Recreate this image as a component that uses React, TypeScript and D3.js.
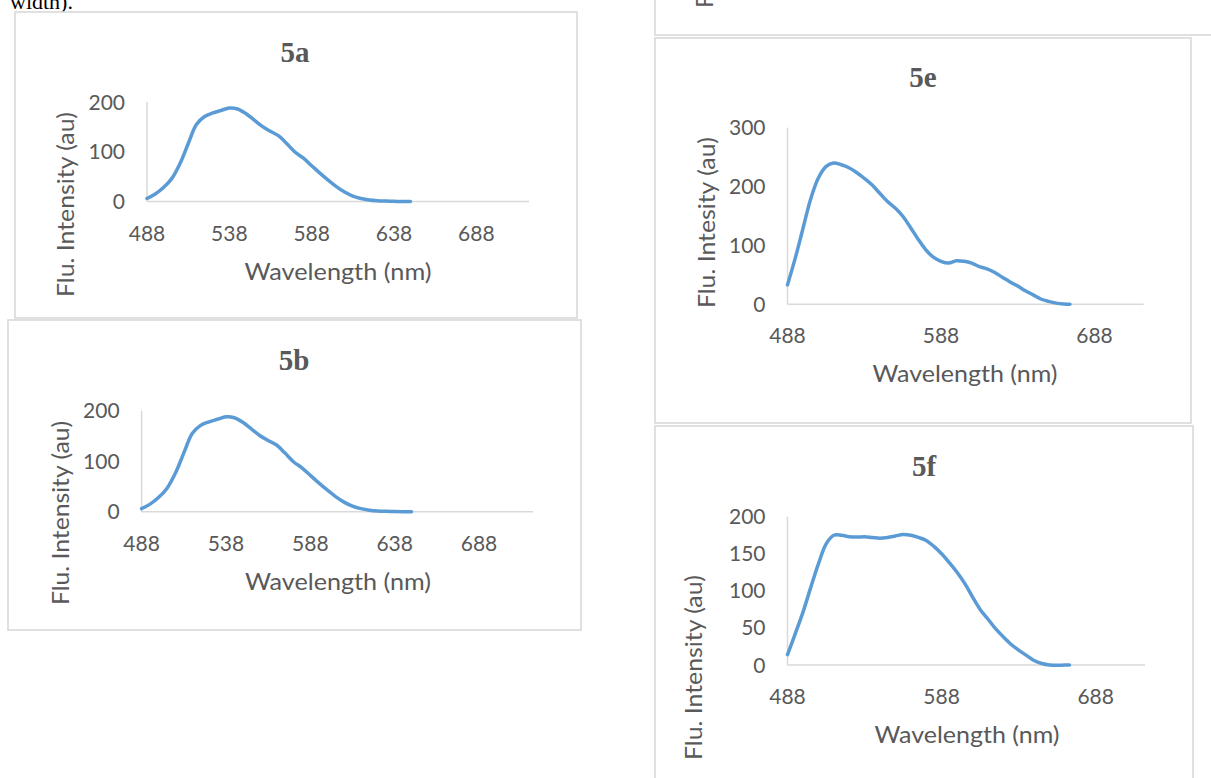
import React from "react";
import * as d3 from "d3";

// ---------- data ----------
const wl5ab = [488, 493, 498, 503, 508, 513, 518, 523, 528, 533, 538, 543, 548, 553, 558, 563, 568, 573, 578, 583, 588, 593, 598, 603, 608, 613, 618, 623, 628, 633, 638, 643, 648];
const int5a = [6, 15, 28, 46, 76, 116, 155, 171, 178, 183, 188, 186, 177, 164, 151, 141, 132, 116, 99, 87, 72, 57, 43, 30, 19, 11, 6, 3, 1.5, 0.8, 0.3, 0, 0];
const int5b = [6, 15, 28, 46, 76, 116, 155, 171, 178, 183, 188, 186, 177, 164, 151, 141, 132, 116, 99, 87, 72, 57, 43, 30, 19, 11, 6, 3, 1.5, 0.8, 0.3, 0, 0];

const wl5e = [488, 493, 498, 503, 508, 513, 518, 523, 528, 533, 538, 543, 548, 553, 558, 563, 568, 573, 578, 583, 588, 593, 598, 603, 608, 613, 618, 623, 628, 633, 638, 643, 648, 653, 658, 663, 668, 672];
const int5e = [33, 78, 128, 178, 214, 234, 240, 237, 232, 224, 214, 203, 189, 175, 164, 150, 131, 111, 93, 80, 73, 70, 74, 73, 70, 64, 60, 54, 46, 38, 31, 23, 16, 9, 5, 2, 0.5, 0];

const wl5f = [488, 493, 498, 503, 508, 513, 518, 523, 528, 533, 538, 543, 548, 553, 558, 563, 568, 573, 578, 583, 588, 593, 598, 603, 608, 613, 618, 623, 628, 633, 638, 643, 648, 653, 658, 663, 668, 671];
const int5f = [14, 42, 71, 104, 136, 163, 175, 175, 173, 172.5, 173, 172, 171, 172, 174, 176, 175, 172, 168, 160, 150, 138, 125, 110, 92, 75, 62, 49, 38, 28, 20, 13, 6, 2, 0, -0.5, 0, 0];

const yTicks5ab = [0, 100, 200];
const yTicks5e = [0, 100, 200, 300];
const yTicks5f = [0, 50, 100, 150, 200];
const xTicks5ab = [488, 538, 588, 638, 688];
const xTicks5ef = [488, 588, 688];
const xDomain = [488, 720];

const TEXT = "#595959";
const GRID = "#D9D9D9";
const LINE = "#5B9BD5";
const SANS = "Lato, 'Open Sans', sans-serif";
const SERIF = "'Liberation Serif', 'Times New Roman', serif";

type PanelProps = {
  box: [number, number, number, number];
  title: string;
  titleX: number;
  titleBase: number;
  px0: number;
  px1: number;
  py0: number;
  py1: number;
  yMax: number;
  yTicks: number[];
  xTicks: number[];
  xs: number[];
  ys: number[];
  yTitle: string;
  yTitleX: number;
  yTitleY: number;
  yTitleLen: number;
  xTitleX: number;
  xTitleLen: number;
};

function Panel(p: PanelProps) {
  const x = d3.scaleLinear().domain(xDomain).range([p.px0, p.px1]);
  const y = d3.scaleLinear().domain([0, p.yMax]).range([p.py0, p.py1]);
  const line = d3
    .line<number>()
    .x((_, i) => x(p.xs[i]))
    .y((d) => y(d))
    .curve(d3.curveCatmullRom.alpha(0.5));
  const [bx, by, bw, bh] = p.box;
  return (
    <g>
      <rect x={bx} y={by} width={bw} height={bh} fill="#fff" stroke={GRID} strokeWidth={1.6} />
      <text x={p.titleX} y={p.titleBase} textAnchor="middle" fontFamily={SERIF} fontWeight="bold" fontSize={29} fill={TEXT}>
        {p.title}
      </text>
      <line x1={x(xDomain[0])} x2={x(xDomain[0])} y1={y(0)} y2={y(p.yMax)} stroke={GRID} strokeWidth={1.5} />
      <line x1={x(xDomain[0])} x2={x(xDomain[1])} y1={y(0)} y2={y(0)} stroke={GRID} strokeWidth={1.5} />
      {p.yTicks.map((t) => (
        <text key={"y" + t} x={x(xDomain[0]) - 22} y={y(t)} dy="0.36em" textAnchor="end" fontFamily={SANS} fontSize={21} fill={TEXT}>
          {t}
        </text>
      ))}
      {p.xTicks.map((t) => (
        <text key={"x" + t} x={x(t)} y={y(0) + 39} textAnchor="middle" fontFamily={SANS} fontSize={21} fill={TEXT}>
          {t}
        </text>
      ))}
      <text x={p.xTitleX} y={y(0) + 78} textAnchor="middle" fontFamily={SANS} fontSize={24} fill={TEXT} textLength={p.xTitleLen} lengthAdjust="spacingAndGlyphs">
        Wavelength (nm)
      </text>
      <text
        transform={`translate(${p.yTitleX},${p.yTitleY}) rotate(-90)`}
        textAnchor="middle"
        fontFamily={SANS}
        fontSize={24}
        fill={TEXT}
        textLength={p.yTitleLen}
        lengthAdjust="spacingAndGlyphs"
      >
        {p.yTitle}
      </text>
      <path d={line(p.ys) || ""} fill="none" stroke={LINE} strokeWidth={3.5} strokeLinecap="round" strokeLinejoin="round" />
    </g>
  );
}

export default function App() {
  return (
    <svg width={1211} height={778} style={{ position: "absolute", left: 0, top: 0, display: "block", background: "#fff" }}>
      <rect x={0} y={0} width={1211} height={778} fill="#fff" />
      <text x={10} y={9} fontFamily={SERIF} fontSize={22} fill="#000">
        width).
      </text>
      {/* partial panel at top right */}
      <rect x={655} y={-100} width={700} height={135} fill="#fff" stroke={GRID} strokeWidth={1.6} />
      <text transform="translate(713,8) rotate(-90)" textAnchor="start" fontFamily={SANS} fontSize={24} fill={TEXT}>
        Flu. Intensity (au)
      </text>
      <Panel
        box={[15, 12, 562, 306]}
        title="5a"
        titleX={295}
        titleBase={62}
        px0={147}
        px1={529}
        py0={201.5}
        py1={102}
        yMax={200}
        yTicks={yTicks5ab}
        xTicks={xTicks5ab}
        xs={wl5ab}
        ys={int5a}
        yTitle="Flu. Intensity (au)"
        yTitleX={74}
        yTitleY={204.5}
        yTitleLen={185}
        xTitleX={338}
        xTitleLen={187}
      />
      <Panel
        box={[8, 320, 573, 310]}
        title="5b"
        titleX={294}
        titleBase={370}
        px0={141.6}
        px1={533}
        py0={511.7}
        py1={410.7}
        yMax={200}
        yTicks={yTicks5ab}
        xTicks={xTicks5ab}
        xs={wl5ab}
        ys={int5b}
        yTitle="Flu. Intensity (au)"
        yTitleX={69}
        yTitleY={513}
        yTitleLen={184}
        xTitleX={338}
        xTitleLen={186}
      />
      <Panel
        box={[655, 38, 536, 385]}
        title="5e"
        titleX={923}
        titleBase={87}
        px0={787.5}
        px1={1143.6}
        py0={304.3}
        py1={127.7}
        yMax={300}
        yTicks={yTicks5e}
        xTicks={xTicks5ef}
        xs={wl5e}
        ys={int5e}
        yTitle="Flu. Intesity (au)"
        yTitleX={714.5}
        yTitleY={222.6}
        yTitleLen={171}
        xTitleX={965}
        xTitleLen={185}
      />
      <Panel
        box={[655, 426, 538, 400]}
        title="5f"
        titleX={924}
        titleBase={476}
        px0={787.5}
        px1={1145}
        py0={665}
        py1={516.7}
        yMax={200}
        yTicks={yTicks5f}
        xTicks={xTicks5ef}
        xs={wl5f}
        ys={int5f}
        yTitle="Flu. Intensity (au)"
        yTitleX={702}
        yTitleY={667.5}
        yTitleLen={185}
        xTitleX={967}
        xTitleLen={185}
      />
    </svg>
  );
}
